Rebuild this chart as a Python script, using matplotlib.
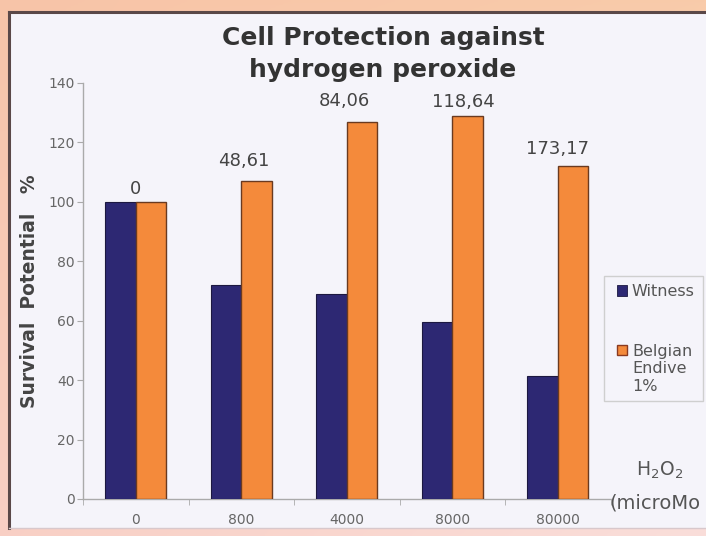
import numpy as np
import matplotlib
matplotlib.use("Agg")
import matplotlib.pyplot as plt
from matplotlib.patches import Rectangle, Patch
from matplotlib.lines import Line2D
from matplotlib.legend_handler import HandlerPatch

# ---- data ----
categories = ["0", "800", "4000", "8000", "80000"]
witness = [100, 72, 69, 59.5, 41.5]
endive = [100, 107, 127, 129, 112]
annotations = ["0", "48,61", "84,06", "118,64", "173,17"]
yticks = [0, 20, 40, 60, 80, 100, 120, 140]

# label placement (style, not data)
label_dx = [0.0, 0.02, -0.02, 0.11, 0.0]
label_gap_pt = [2.5, 8.0, 8.5, 3.5, 6.0]

plt.rcParams['font.family'] = ['DejaVu Sans']

W, H = 706, 536
fig = plt.figure(figsize=(W / 100, H / 100), dpi=100)

# background gradient (peach)
bg = fig.add_axes([0, 0, 1, 1], zorder=-10)
yy, xx = np.mgrid[0:1:200j, 0:1:200j]
top = np.array([249, 203, 170]) / 255
left = np.array([246, 186, 165]) / 255
bot = np.array([250, 222, 218]) / 255
t = xx[..., None]
img = top * (1 - yy[..., None]) + bot * yy[..., None]
img = img * (0.6 + 0.4 * t) + left * (0.4 - 0.4 * t)
bg.imshow(np.clip(img, 0, 1), aspect='auto', extent=[0, 1, 0, 1], origin='upper')
bg.set_axis_off()

panel_color = '#f5f4fa'
pl, pb, pt_ = 9 / W, 8 / H, 1 - 12 / H
fig.patches.append(Rectangle((pl, pb), 1.2, pt_ - pb, transform=fig.transFigure,
                             facecolor=panel_color, edgecolor='none', zorder=-5))
fig.lines.append(Line2D([pl, pl], [pb, pt_], transform=fig.transFigure, color='#5a4848', lw=2.2))
fig.lines.append(Line2D([pl, 1.0], [pt_, pt_], transform=fig.transFigure, color='#5a4848', lw=2.2))
fig.lines.append(Line2D([pl, 1.0], [pb, pb], transform=fig.transFigure, color='#d8c8cc', lw=1.0))

ax = fig.add_axes([83 / W, (H - 499) / H, 527.5 / W, (499 - 83) / H])
ax.set_facecolor('none')
x = np.arange(len(categories))
bw = 0.29
navy = '#2d2873'
orange = '#f48a3b'
ax.bar(x - bw / 2, witness, width=bw, color=navy, edgecolor='#1c1840', linewidth=0.8, zorder=3)
ax.bar(x + bw / 2, endive, width=bw, color=orange, edgecolor='#6a3a20', linewidth=1.0, zorder=3)

for i, (lab, v) in enumerate(zip(annotations, endive)):
    ax.annotate(lab, (x[i] + label_dx[i], v), xytext=(0, label_gap_pt[i]), textcoords='offset points',
                ha='center', va='bottom', fontsize=13, color='#444444')

ax.set_xlim(-0.5, len(categories) - 0.5)
ax.set_ylim(0, 140)
ax.set_yticks(yticks)
ax.set_yticklabels([str(v) for v in yticks])
ax.set_xticks(x)
ax.set_xticklabels(categories)
ax.set_xticks(np.arange(-0.5, len(categories)), minor=True)
ax.tick_params(axis='x', which='major', length=0, pad=10, labelsize=10, labelcolor='#666666')
ax.tick_params(axis='x', which='minor', length=4, color='#aaaaaa', direction='out')
ax.tick_params(axis='y', length=4, color='#aaaaaa', labelsize=10, labelcolor='#666666', pad=2)
for s in ['top', 'right']:
    ax.spines[s].set_visible(False)
for s in ['left', 'bottom']:
    ax.spines[s].set_color('#aaaaaa')
    ax.spines[s].set_linewidth(1.0)

ax.set_ylabel('Survival  Potential   %', fontsize=13.5, fontweight='bold', color='#444444', labelpad=7)

fig.text(383 / W, 1 - 38 / H, 'Cell Protection against', ha='center', va='center',
         fontsize=18, fontweight='bold', color='#333333')
fig.text(383 / W, 1 - 70 / H, 'hydrogen peroxide', ha='center', va='center',
         fontsize=18, fontweight='bold', color='#333333')


def make_square(shift_pt):
    def f(legend, orig_handle, xdescent, ydescent, width, height, fontsize):
        s = 7.6
        return Rectangle((-xdescent + width - s, -ydescent + (height - s) / 2 + shift_pt), s, s)
    return f


h_w = Patch(facecolor=navy, edgecolor='#1c1840', linewidth=0.6)
h_e = Patch(facecolor=orange, edgecolor='#8a3a20', linewidth=1.0)
leg = fig.legend([h_w, h_e], ['Witness', 'Belgian\nEndive\n1%'], loc='upper left',
                 bbox_to_anchor=(604 / W, 1 - 276 / H), borderaxespad=0, fontsize=11.5,
                 frameon=True, fancybox=False, edgecolor='#cfcfcf', facecolor=panel_color,
                 framealpha=1, handlelength=0.95, handleheight=0.7, handletextpad=0.3,
                 labelspacing=2.8, borderpad=0.5,
                 handler_map={h_w: HandlerPatch(patch_func=make_square(0)),
                              h_e: HandlerPatch(patch_func=make_square(13.6))})
for txt in leg.get_texts():
    txt.set_color('#555555')
    txt.set_linespacing(1.2)
leg.get_frame().set_linewidth(1.0)

fig.text(660 / W, 1 - 470 / H, r'H$_2$O$_2$', ha='center', va='center', fontsize=13.5, color='#555555')
fig.text(609 / W, 1 - 503 / H, '(microMo', ha='left', va='center', fontsize=14, color='#555555')

fig.savefig('out.png', dpi=100)
